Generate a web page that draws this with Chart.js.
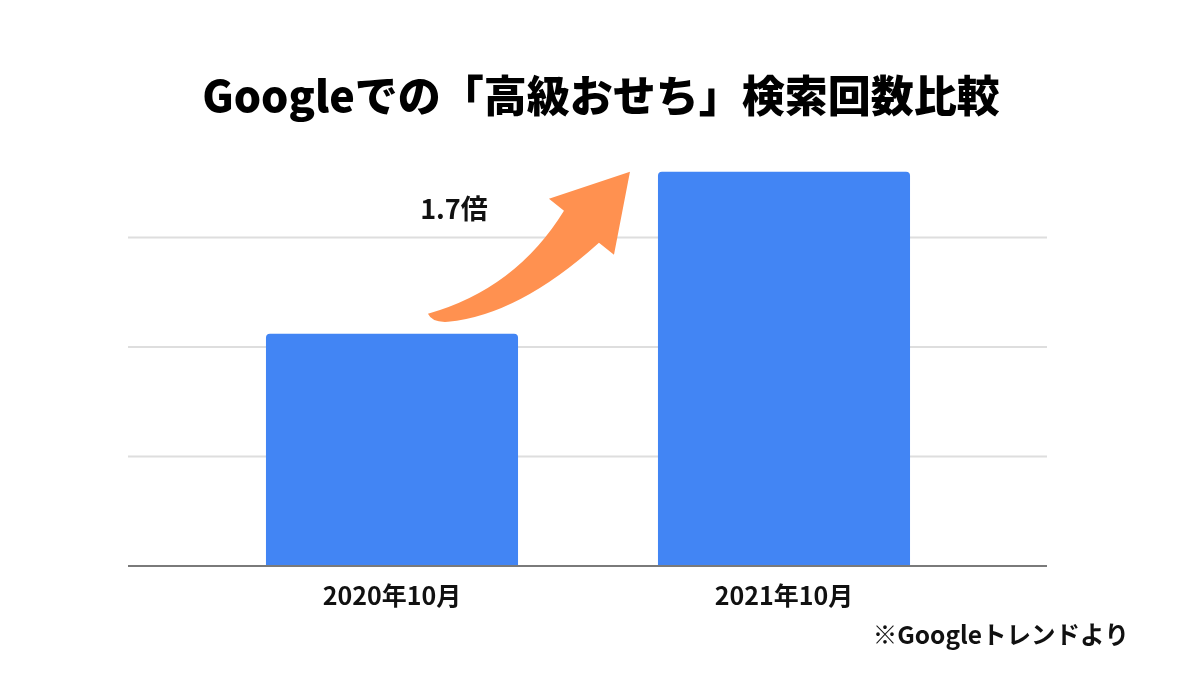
<!DOCTYPE html>
<html>
<head>
<meta charset="utf-8">
<script src="https://cdn.jsdelivr.net/npm/chart.js@4.4.1/dist/chart.umd.min.js"></script>
<style>
html,body{margin:0;padding:0;background:#fff;}
#wrap{width:1200px;height:676px;}
</style>
</head>
<body>
<div id="wrap"><canvas id="c" width="1200" height="676"></canvas></div>
<script>
const categories = ["2020年10月", "2021年10月"];
const searchValues = [53, 90];
const titleText = "Googleでの「高級おせち」検索回数比較";
const ratioLabel = "1.7倍";
const sourceNote = "※Googleトレンドより";

const FONT = "'Noto Sans CJK JP', 'Noto Sans', sans-serif";

const gridPlugin = {
  id: 'extGrid',
  beforeDatasetsDraw(chart) {
    const ctx = chart.ctx, y = chart.scales.y;
    const left = 128, right = 1047;
    ctx.save();
    y.ticks.forEach(t => {
      const py = y.getPixelForValue(t.value);
      if (t.value === 0 || t.value >= y.max) return;
      ctx.strokeStyle = '#dedede';
      ctx.lineWidth = 2;
      ctx.beginPath(); ctx.moveTo(left, py); ctx.lineTo(right, py); ctx.stroke();
    });
    ctx.restore();
  },
  afterDatasetsDraw(chart) {
    const ctx = chart.ctx, y = chart.scales.y;
    const py = y.getPixelForValue(0);
    ctx.save();
    ctx.strokeStyle = '#7a7a7a';
    ctx.lineWidth = 2;
    ctx.beginPath(); ctx.moveTo(128, py); ctx.lineTo(1047, py); ctx.stroke();
    ctx.restore();
  }
};

const arrowPlugin = {
  id: 'arrow',
  afterDraw(chart) {
    const ctx = chart.ctx;
    const bar2 = chart.getDatasetMeta(0).data[1];
    const ax = bar2.x - bar2.width / 2, ay = bar2.y;
    const P = (dx, dy) => [ax + dx, ay + dy];
    ctx.save();
    ctx.fillStyle = '#FF9150';
    ctx.beginPath();
    let p = P(-94, 39); ctx.moveTo(p[0], p[1]);
    let c = P(-142, 117); p = P(-230, 142); ctx.quadraticCurveTo(c[0], c[1], p[0], p[1]);
    c = P(-226, 151); p = P(-210, 150); ctx.quadraticCurveTo(c[0], c[1], p[0], p[1]);
    c = P(-139.5, 143.5); p = P(-59, 71); ctx.quadraticCurveTo(c[0], c[1], p[0], p[1]);
    p = P(-44, 83); ctx.lineTo(p[0], p[1]);
    p = P(-28, 0); ctx.lineTo(p[0], p[1]);
    p = P(-109, 27); ctx.lineTo(p[0], p[1]);
    ctx.closePath();
    ctx.fill();

    ctx.fillStyle = '#111';
    ctx.font = "bold 27px " + FONT;
    ctx.textAlign = 'center';
    ctx.textBaseline = 'middle';
    p = P(-204, 37);
    ctx.fillText(ratioLabel, p[0], p[1]);

    ctx.font = "bold 24.5px " + FONT;
    ctx.textAlign = 'right';
    ctx.fillText(sourceNote, 1129, 635);

    ctx.fillStyle = '#000';
    ctx.font = "900 43px " + FONT;
    ctx.textAlign = 'center';
    ctx.fillText(titleText, 601, 96);
    ctx.restore();
  }
};

new Chart(document.getElementById('c'), {
  type: 'bar',
  data: {
    labels: categories,
    datasets: [{
      data: searchValues,
      backgroundColor: '#4285F4',
      borderRadius: 4,
      barPercentage: 0.643,
      categoryPercentage: 1.0
    }]
  },
  options: {
    responsive: false,
    animation: false,
    devicePixelRatio: 1,
    layout: { padding: { left: 196, right: 220, top: 128, bottom: 52 } },
    plugins: {
      legend: { display: false },
      tooltip: { enabled: false },
      title: { display: false }
    },
    scales: {
      x: {
        grid: { display: false, drawTicks: false },
        border: { display: false },
        ticks: {
          color: '#111',
          padding: 14,
          font: { family: FONT, size: 25, weight: 'bold', lineHeight: 1.2 }
        }
      },
      y: {
        min: 0, max: 100,
        grid: { display: false, drawTicks: false },
        border: { display: false },
        ticks: { display: false, stepSize: 25 }
      }
    }
  },
  plugins: [gridPlugin, arrowPlugin]
});
</script>
</body>
</html>
